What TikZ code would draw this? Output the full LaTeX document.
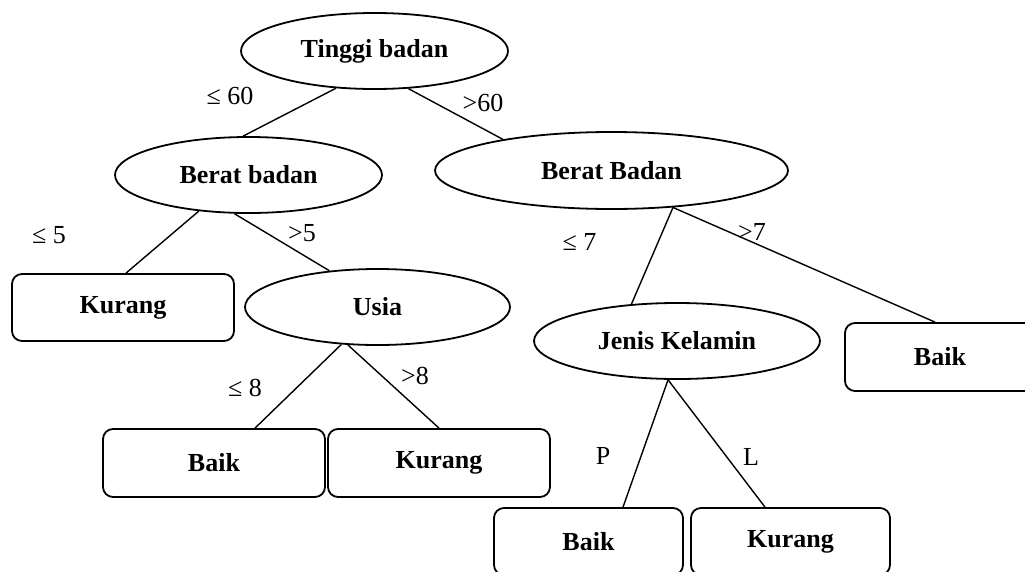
\documentclass[tikz,border=0pt]{standalone}
\usepackage{fontspec}
\setmainfont{Liberation Serif}
\usetikzlibrary{shapes.geometric}
\begin{document}
\begin{tikzpicture}[x=1pt,y=-1pt,
  attr/.style={ellipse, draw, line width=1.8pt, inner sep=0pt,
    font=\fontsize{26}{30}\selectfont\bfseries},
  leaf/.style={rectangle, rounded corners=10pt, draw, line width=1.8pt, inner sep=0pt,
    font=\fontsize{26}{30}\selectfont\bfseries},
  edge/.style={line width=1.4pt},
  lbl/.style={inner sep=0pt, font=\fontsize{26}{30}\selectfont}]
\useasboundingbox (0,0) rectangle (1025,571);
\fill[white] (0,0) rectangle (1025,571);
\clip (0,0) rectangle (1025,571);

% decision nodes
\node[attr, minimum width=267pt, minimum height=76pt] (tb)  at (374.5,51)  {Tinggi badan};
\node[attr, minimum width=267pt, minimum height=76pt] (bbL) at (248.5,175) {Berat badan};
\node[attr, minimum width=353pt, minimum height=77pt] (bbR) at (611.5,170.5) {Berat Badan};
\node[attr, minimum width=265pt, minimum height=76pt] (usia) at (377.5,307) {Usia};
\node[attr, minimum width=286pt, minimum height=76pt] (jk)  at (677,341)   {Jenis Kelamin};

% leaves
\node[leaf, minimum width=222pt, minimum height=67pt] (kurL)  at (123,307.5) {Kurang};
\node[leaf, minimum width=222pt, minimum height=68pt] (baikM) at (214,463)   {Baik};
\node[leaf, minimum width=222pt, minimum height=68pt] (kurM)  at (439,463)   {Kurang};
\node[leaf, minimum width=190pt, minimum height=68pt] (baikR) at (940,357)   {Baik};
\node[leaf, minimum width=189pt, minimum height=67pt] (baikB) at (588.5,541.5) {Baik};
\node[leaf, minimum width=199pt, minimum height=67pt] (kurB)  at (790.5,541.5) {Kurang};

% branches
\draw[edge] (tb.-136) -- (bbL.98);
\draw[edge] (tb.-48) -- (bbR.164);
\draw[edge] (bbL.-144) -- ([xshift=3pt]kurL.north);
\draw[edge] (bbL.-110) -- (usia.143);
\draw[edge] (usia.-134) -- ([xshift=41pt]baikM.north);
\draw[edge] (usia.-128) -- (kurM.north);
\draw[edge] (bbR.-31) -- (jk.141);
\draw[edge] (bbR.-31) -- ([xshift=-5pt]baikR.north);
\draw[edge] (jk.-103) -- ([xshift=34.5pt]baikB.north);
\draw[edge] (jk.-103) -- ([xshift=-25.5pt]kurB.north);

% branch labels
\node[lbl] (l1) at (230,96)  {≤ 60};
\node[lbl] (l2) at (483,103) {>60};
\node[lbl] (l3) at (49,235)  {≤ 5};
\node[lbl] (l4) at (302,233) {>5};
\node[lbl] (l5) at (245,388) {≤ 8};
\node[lbl] (l6) at (415,376) {>8};
\node[lbl] (l7) at (579.5,242) {≤ 7};
\node[lbl] (l8) at (752,232) {>7};
\node[lbl] (l9) at (603,456) {P};
\node[lbl] (l10) at (751,457) {L};
\end{tikzpicture}
\end{document}
